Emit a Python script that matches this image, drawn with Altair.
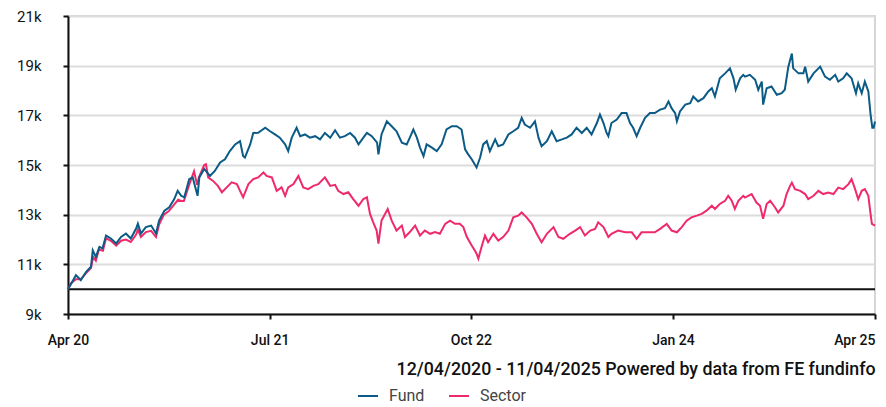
import altair as alt
import pandas as pd

START = "2020-04-12"

# Days since 12/04/2020 and indexed values (growth of 10,000)
fund_days = [0, 18, 29, 41, 52, 56, 63, 71, 78, 86, 97, 109, 120, 131, 142, 154, 158, 165, 176, 188,
             199, 206, 218, 229, 240, 248, 256, 263, 274, 282, 293, 297, 308, 321, 332, 344, 355, 366,
             378, 389, 396, 400, 412, 419, 430, 446, 457, 468, 479, 491, 498, 506, 517, 525, 536, 547,
             559, 570, 581, 593, 604, 615, 626, 638, 649, 657, 668, 676, 687, 699, 702, 709, 721, 732,
             743, 755, 766, 773, 781, 789, 796, 804, 811, 823, 834, 845, 856, 868, 879, 890, 898, 905,
             913, 924, 932, 939, 947, 954, 966, 973, 984, 996, 1007, 1018, 1026, 1033, 1045, 1056, 1064,
             1071, 1083, 1094, 1105, 1117, 1128, 1139, 1150, 1162, 1173, 1184, 1196, 1203, 1211, 1218,
             1222, 1229, 1241, 1252, 1263, 1271, 1278, 1286, 1294, 1305, 1316, 1327, 1339, 1350, 1358,
             1365, 1373, 1377, 1384, 1396, 1407, 1414, 1425, 1437, 1448, 1456, 1463, 1474, 1486, 1497,
             1505, 1510, 1520, 1527, 1531, 1542, 1554, 1561, 1569, 1572, 1580, 1591, 1603, 1614, 1621,
             1629, 1637, 1640, 1652, 1663, 1667, 1674, 1686, 1701, 1712, 1723, 1735, 1742, 1753, 1761,
             1772, 1782, 1787, 1795, 1802, 1810, 1815, 1819, 1822, 1825]
fund_values = [10000, 10560, 10360, 10700, 10900, 11560, 11300, 11700, 11640, 12160, 12040, 11840, 12100,
               12240, 12040, 12440, 12640, 12240, 12500, 12560, 12240, 12760, 13160, 13300, 13620, 13960,
               13760, 13700, 14430, 14500, 13760, 14500, 14840, 14560, 14760, 15100, 15230, 15560, 15830,
               15960, 15360, 15300, 15830, 16290, 16300, 16500, 16360, 16230, 16100, 15830, 15560, 16100,
               16500, 16160, 16230, 16100, 16160, 16030, 16290, 16100, 16400, 16100, 16160, 16290, 16100,
               15830, 16100, 16290, 16160, 15900, 15430, 16230, 16760, 16560, 16360, 15900, 15830, 16100,
               16430, 16100, 15700, 15360, 15830, 15700, 15560, 15830, 16430, 16560, 16560, 16430, 15630,
               15430, 15230, 14900, 15300, 15830, 15960, 15560, 16030, 15760, 15830, 16230, 16360, 16500,
               16900, 16630, 16500, 16760, 16100, 15760, 15960, 16360, 15960, 16030, 16100, 16230, 16500,
               16290, 16500, 16230, 16690, 17030, 16690, 16290, 16160, 16690, 16830, 17090, 17090, 16690,
               16500, 16160, 16500, 16900, 17090, 17090, 17230, 17290, 17560, 17290, 17090, 16760, 17160,
               17430, 17490, 17760, 17560, 17690, 17960, 18090, 17760, 18490, 18690, 18890, 18490, 18030,
               18490, 18630, 18560, 18630, 18430, 18030, 18360, 17430, 18090, 18160, 17830, 17890, 18030,
               18960, 19490, 18890, 18690, 18690, 18960, 18360, 18690, 18960, 18560, 18430, 18630, 18360,
               18490, 18690, 18490, 17890, 18290, 17890, 18360, 17960, 17030, 16500, 16500, 16750]

sector_days = [0, 7, 18, 29, 41, 52, 57, 63, 70, 79, 86, 97, 109, 120, 131, 142, 154, 158, 165, 176,
               188, 199, 206, 217, 228, 240, 249, 256, 262, 274, 285, 292, 296, 308, 312, 317, 328, 339,
               348, 359, 370, 382, 389, 396, 408, 419, 430, 442, 449, 461, 472, 483, 491, 498, 510, 521,
               532, 543, 555, 566, 581, 593, 604, 611, 623, 634, 645, 657, 668, 676, 683, 690, 698, 702,
               709, 717, 723, 732, 743, 755, 762, 773, 785, 796, 807, 819, 830, 841, 853, 864, 875, 886,
               894, 902, 913, 920, 924, 928, 935, 943, 950, 962, 973, 984, 996, 1007, 1018, 1026, 1037,
               1049, 1060, 1071, 1083, 1098, 1109, 1120, 1135, 1147, 1158, 1169, 1181, 1192, 1199, 1211,
               1222, 1229, 1244, 1260, 1275, 1286, 1297, 1312, 1327, 1339, 1354, 1365, 1377, 1388, 1399,
               1410, 1422, 1433, 1444, 1456, 1463, 1474, 1486, 1493, 1501, 1508, 1516, 1527, 1531, 1546,
               1557, 1565, 1572, 1580, 1588, 1599, 1606, 1618, 1625, 1633, 1637, 1644, 1656, 1667, 1674,
               1686, 1697, 1708, 1719, 1731, 1742, 1753, 1765, 1772, 1780, 1787, 1795, 1802, 1810, 1814,
               1818, 1825]
sector_values = [10000, 10240, 10400, 10400, 10650, 10850, 11300, 11150, 11600, 11550, 12050, 11950,
                 11750, 11950, 12000, 11900, 12200, 12400, 12100, 12300, 12350, 12100, 12600, 13000,
                 13150, 13400, 13600, 13550, 13550, 14200, 14750, 14200, 14500, 15000, 15030, 14500,
                 14360, 14160, 13900, 14100, 14300, 14230, 13960, 13700, 14230, 14430, 14500, 14700,
                 14560, 14500, 13960, 14100, 13760, 14100, 14230, 14560, 14100, 14030, 14160, 14230,
                 14500, 14160, 14200, 13960, 13830, 13900, 13630, 13360, 13630, 13700, 13030, 12700,
                 12360, 11830, 12760, 13030, 13230, 12760, 12360, 12560, 12100, 12300, 12560, 12160,
                 12360, 12230, 12300, 12230, 12630, 12760, 12630, 12630, 12500, 12100, 11760, 11560,
                 11430, 11230, 11690, 12160, 11890, 12230, 11960, 12100, 12360, 12890, 12960, 13090,
                 12890, 12630, 12230, 11890, 12230, 12500, 12100, 12030, 12230, 12360, 12500, 12160,
                 12360, 12430, 12690, 12500, 12100, 12230, 12360, 12290, 12290, 12030, 12290, 12290,
                 12290, 12430, 12630, 12360, 12290, 12500, 12760, 12890, 12960, 13030, 13160, 13360,
                 13230, 13430, 13560, 13760, 13560, 13230, 13560, 13760, 13690, 13830, 13490, 13360,
                 12830, 13430, 13560, 13290, 13090, 13360, 13830, 14160, 14290, 14030, 13960, 13830,
                 13630, 13760, 13960, 13830, 13890, 13830, 14090, 14030, 14230, 14430, 14030, 13630,
                 13960, 14030, 13760, 13160, 12630, 12560]

series_names = ["Fund", "Sector"]
series_colors = ["#0b5b86", "#ee2a6b"]
y_ticks = [9000, 11000, 13000, 15000, 17000, 19000, 21000]
baseline_value = [10000]
footer = "12/04/2020 - 11/04/2025 Powered by data from FE fundinfo"

start = pd.Timestamp(START)


def frame(days, values, name):
    d = (start + pd.to_timedelta(days, unit="D")).strftime("%Y-%m-%dT00:00:00")
    return pd.DataFrame({"date": list(d), "value": values, "series": name})


df = pd.concat([frame(fund_days, fund_values, "Fund"),
                frame(sector_days, sector_values, "Sector")], ignore_index=True)

FONT = "Roboto"

x_enc = alt.X(
    "date:T",
    scale=alt.Scale(domain=[alt.DateTime(year=2020, month=4, date=12),
                            alt.DateTime(year=2025, month=4, date=11)]),
    axis=alt.Axis(
        title=footer,
        titleFont=FONT, titleFontSize=17.8, titleFontWeight=500, titleColor="#111",
        titleAnchor="end", titleAlign="right", titlePadding=13,
        values=[alt.DateTime(year=2020, month=4, date=12),
                alt.DateTime(year=2021, month=7, date=12),
                alt.DateTime(year=2022, month=10, date=10),
                alt.DateTime(year=2024, month=1, date=10),
                alt.DateTime(year=2025, month=4, date=11)],
        labelExpr="timeFormat(datum.value, '%b %y')",
        labelAlign=alt.condition("datum.value > time(datetime(2025, 2, 1))",
                                 alt.value("right"), alt.value("center")),
        grid=False,
        domainColor="#111", domainWidth=2,
        tickColor="#111", tickWidth=2, tickSize=5,
        labelFont=FONT, labelFontSize=14, labelFontWeight=500, labelColor="#111",
        labelPadding=14,
    ),
)
y_enc = alt.Y(
    "value:Q",
    scale=alt.Scale(domain=[9000, 21000]),
    axis=alt.Axis(
        title=None, values=y_ticks,
        labelExpr="datum.value / 1000 + 'k'",
        grid=True, gridColor="#dcdcdc", gridWidth=2,
        domainColor="#111", domainWidth=2,
        tickColor="#111", tickWidth=2, tickSize=5,
        labelFont=FONT, labelFontSize=15, labelColor="#111",
        labelPadding=22,
    ),
)
color_enc = alt.Color(
    "series:N",
    scale=alt.Scale(domain=series_names, range=series_colors),
    legend=alt.Legend(
        title=None, orient="none", direction="horizontal",
        legendX=289, legendY=369,
        symbolType="stroke", symbolStrokeWidth=2, symbolSize=400,
        labelFont=FONT, labelFontSize=16, labelColor="#444",
        labelOffset=10, columnPadding=20,
    ),
)

base = alt.Chart(df)
sector_line = base.transform_filter("datum.series == 'Sector'").mark_line(strokeWidth=2).encode(
    x=x_enc, y=y_enc, color=color_enc)
fund_line = base.transform_filter("datum.series == 'Fund'").mark_line(strokeWidth=2).encode(
    x=x_enc, y=y_enc, color=color_enc)

rule = alt.Chart(pd.DataFrame({"v": baseline_value})).mark_rule(color="#111", strokeWidth=2).encode(
    y=alt.Y("v:Q", scale=alt.Scale(domain=[9000, 21000])))

chart = alt.layer(rule, sector_line, fund_line).properties(
    width=807, height=298,
    autosize=alt.AutoSizeParams(type="none"),
    padding={"left": 60, "top": 8, "right": 3, "bottom": 92},
).configure_view(stroke="#d6d6d6", strokeWidth=2)

chart.save("out.html", embed_options={"renderer": "svg", "actions": False})
